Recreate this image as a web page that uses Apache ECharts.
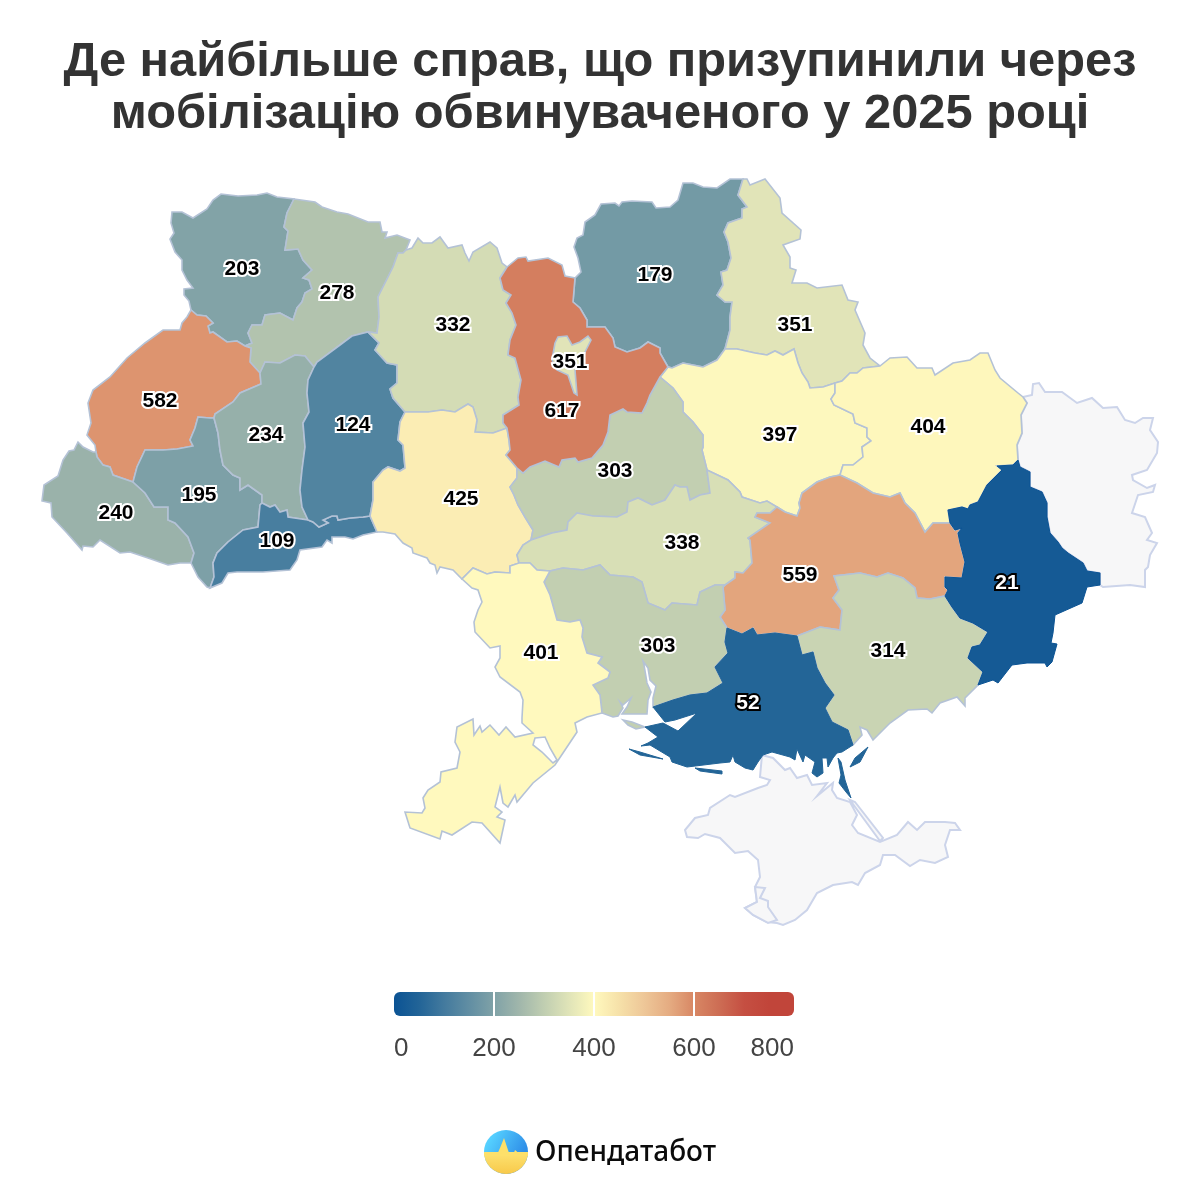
<!DOCTYPE HTML>
<html>
<head>
<meta charset="utf-8">
<title>Справи, призупинені через мобілізацію обвинуваченого</title>
<script src="https://cdn.jsdelivr.net/npm/echarts@6/dist/echarts.min.js"></script>
<style>
    html, body { margin: 0; padding: 0; background: #fff; }
    #chart { width: 1200px; height: 1200px; }
</style>
</head>
<body>
<div id="chart"></div>
<script type="text/javascript">
var titleText = 'Де найбільше справ, що призупинили через\nмобілізацію обвинуваченого у 2025 році';

var regionNames = ['Волинська', 'Рівненська', 'Житомирська', 'Чернігівська', 'Сумська', 'Львівська', 'Тернопільська',
    'Хмельницька', 'Вінницька', 'Черкаська', 'Кіровоградська', 'Полтавська', 'Харківська', 'Дніпропетровська',
    'Запорізька', 'Миколаївська', 'Одеська', 'Чернівецька', 'Івано-Франківська', 'Закарпатська', 'Київська',
    'Київ', 'Херсонська', 'Донецька'];
var regionValues = [203, 278, 332, 179, 351, 582, 234, 124, 425, 303, 338, 397, 404, 559, 314, 303, 401, 109, 195, 240, 617, 351, 52, 21];

var scaleMin = 0;
var scaleMax = 800;
var scaleStep = 200;
// colours every 50 cases, sampled from the legend bar
var scaleColors = ['#0b5394', '#226497', '#437a9e', '#618ea3', '#80a2a7', '#a0b6ab', '#c0ceb1', '#e0e4b8', '#fff9be',
    '#f6e1a9', '#eec798', '#e5ac82', '#d88764', '#cd6d54', '#c54f42', '#c1453a', '#c1453a'];

// traced borders, in picture pixels. each one is shared by the two regions on its sides
var arcs = {
    volOut: [[191,310],[189,301],[184,295],[184,289],[193,288],[187,280],[182,270],[182,260],[175,252],[170,239],[174,233],[171,223],[172,212],[182,212],[193,218],[207,209],[213,200],[221,194],[238,196],[257,195],[267,193],[277,197],[294,199]],
    volRiv: [[294,199],[287,213],[284,227],[288,231],[285,250],[298,249],[303,260],[312,270],[303,278],[309,280],[312,289],[305,293],[302,302],[297,308],[293,320],[280,313],[265,315],[262,325],[252,325],[248,333],[252,343],[245,346]],
    volLvi: [[245,346],[237,341],[227,342],[213,332],[210,333],[208,326],[213,323],[206,316],[197,315],[191,310]],
    rivOut: [[294,199],[315,202],[322,207],[337,212],[348,214],[368,222],[380,222],[382,232],[387,232],[385,238],[397,235],[410,240],[406,250]],
    rivZhy: [[406,250],[403,253],[398,253],[393,267],[390,273],[378,297],[379,317],[377,333],[368,332]],
    rivKhm: [[368,332],[352,336],[340,345],[317,362],[314,367]],
    rivTer: [[314,367],[305,356],[295,355],[280,363],[265,362],[260,373]],
    rivLvi: [[260,373],[250,362],[251,348],[245,346]],
    lviOut: [[191,310],[187,317],[182,323],[180,330],[163,330],[145,343],[127,358],[110,377],[93,390],[88,403],[91,423],[87,435],[95,445],[96,452]],
    lviZak: [[96,452],[97,457],[103,465],[110,467],[113,475],[133,482]],
    lviIvf: [[133,482],[137,467],[145,450],[163,450],[177,449],[193,446],[190,440],[195,428],[198,417],[210,418],[214,418]],
    lviTer: [[214,418],[215,414],[233,402],[240,393],[261,384],[260,373]],
    zakOut: [[96,452],[93,452],[83,447],[78,442],[74,450],[69,451],[63,460],[58,476],[44,485],[42,501],[51,503],[52,517],[67,533],[82,550],[83,546],[93,547],[100,540],[120,553],[130,552],[148,558],[168,565],[180,563],[191,563]],
    zakIvf: [[133,482],[145,493],[154,507],[168,507],[168,520],[175,523],[188,537],[194,553],[191,563]],
    ivfOut: [[191,563],[198,577],[207,587],[210,588]],
    ivfChe: [[262,503],[260,505],[258,527],[243,530],[228,542],[217,553],[213,563],[214,577],[210,588]],
    terIvf: [[262,503],[262,495],[248,485],[240,490],[240,478],[233,475],[223,465],[220,450],[218,433],[214,418]],
    terKhm: [[314,367],[308,380],[307,393],[309,412],[303,423],[305,447],[302,470],[300,490],[302,507],[308,520]],
    terChe: [[308,520],[288,517],[287,510],[280,512],[275,505],[270,507],[262,503]],
    cheKhm: [[308,520],[313,522],[319,527],[328,523],[323,520],[332,516],[337,516],[338,520],[350,518],[363,517],[370,516]],
    cheVin: [[370,516],[377,532]],
    cheOut: [[377,532],[363,535],[353,539],[345,537],[332,537],[332,543],[327,540],[322,547],[300,550],[297,560],[290,570],[263,572],[237,572],[228,573],[222,583],[210,588]],
    khmZhy: [[368,332],[379,343],[375,350],[387,363],[397,365],[397,383],[390,389],[393,398],[405,412]],
    khmVin: [[405,412],[400,422],[398,440],[403,445],[405,468],[400,471],[388,467],[383,470],[373,482],[373,500],[370,516]],
    zhyOut: [[406,250],[412,248],[418,238],[423,243],[432,243],[440,237],[448,248],[462,245],[465,253],[469,261],[473,252],[490,242],[497,248],[502,263],[507,267]],
    zhyKyi: [[507,267],[500,278],[503,290],[511,295],[506,303],[512,313],[516,325],[510,340],[508,355],[515,358],[521,380],[518,397],[519,405],[503,415],[503,423],[507,428]],
    zhyVin: [[405,412],[428,412],[442,410],[455,412],[468,404],[473,407],[477,420],[475,432],[493,433],[507,428]],
    kyiOut: [[507,267],[518,258],[526,257],[528,261],[548,258],[562,265],[565,276],[575,278]],
    kyiChn: [[575,278],[573,302],[580,308],[587,320],[587,327],[605,327],[613,338],[615,347],[627,352],[640,348],[648,342],[660,348],[660,353],[668,367]],
    kyiPol: [[668,367],[660,377]],
    kyiChk: [[660,377],[650,395],[647,403],[642,413],[627,412],[623,409],[610,415],[608,432],[603,445],[592,458],[578,462],[575,458],[562,460],[559,467],[545,461],[530,467],[523,473],[517,468]],
    kyiVin: [[507,428],[509,440],[510,450],[506,455],[517,468]],
    vinChk: [[517,468],[517,478],[510,487],[514,495],[518,505],[525,517],[533,530],[531,540]],
    vinKir: [[531,540],[523,545],[517,555],[519,563]],
    vinOde: [[519,563],[510,566],[510,573],[495,572],[487,574],[473,568],[462,579]],
    vinOut: [[462,579],[453,570],[440,567],[437,573],[435,565],[430,563],[427,558],[413,553],[412,548],[403,543],[395,534],[383,532],[377,532]],
    chnOut: [[575,278],[581,272],[578,258],[574,247],[577,238],[583,235],[585,222],[595,215],[601,204],[615,203],[619,206],[622,202],[632,201],[652,202],[656,208],[670,207],[678,200],[683,183],[693,183],[703,187],[717,188],[730,179],[743,179]],
    chnSum: [[743,179],[738,195],[747,207],[742,209],[742,218],[728,223],[724,232],[728,242],[731,258],[727,270],[721,272],[723,285],[717,295],[725,302],[732,302],[730,317],[730,330],[725,349]],
    chnPol: [[725,349],[717,360],[703,367],[683,363],[672,368],[668,367]],
    sumOut: [[743,179],[747,179],[750,185],[765,179],[780,198],[782,213],[801,230],[800,239],[783,245],[790,257],[790,268],[796,270],[792,283],[807,283],[817,288],[842,285],[848,300],[858,302],[855,310],[865,333],[863,345],[870,358],[880,366]],
    sumKha: [[880,366],[863,368],[857,373],[850,373],[842,381],[835,383]],
    sumPol: [[835,383],[823,387],[810,388],[808,382],[802,373],[798,363],[794,349],[783,355],[775,351],[767,355],[755,353],[737,349],[725,349]],
    polKha: [[835,383],[835,393],[831,399],[834,405],[853,414],[855,423],[867,428],[867,437],[871,441],[862,447],[863,457],[853,465],[843,465],[840,475]],
    polDni: [[840,475],[830,477],[817,482],[802,493],[799,503],[800,508],[797,516],[785,512],[777,507]],
    polKir: [[707,470],[728,480],[740,492],[742,497],[760,503],[767,501],[777,507]],
    polChk: [[660,377],[673,388],[683,402],[683,412],[693,422],[703,435],[703,447],[702,450],[707,470]],
    chkKir: [[707,470],[710,493],[700,495],[690,500],[687,487],[680,487],[675,485],[665,500],[652,505],[638,498],[628,502],[627,512],[617,517],[593,516],[577,513],[568,522],[567,530],[552,533],[531,540]],
    kirOde: [[519,563],[530,563],[537,570],[550,571]],
    kirMyk: [[550,571],[563,568],[583,570],[600,565],[610,575],[633,577],[642,582],[648,603],[665,610],[672,603],[697,605],[700,592],[715,585],[725,585]],
    kirDni: [[725,585],[735,578],[735,572],[743,573],[752,563],[750,540],[748,538],[770,523],[755,517],[757,513],[770,513],[777,507]],
    khaDni: [[840,475],[857,483],[873,493],[890,497],[900,493],[905,503],[915,513],[925,532],[933,523],[950,523]],
    dniDon: [[950,523],[955,530],[962,528],[958,533],[960,543],[965,562],[962,578],[945,577],[945,587],[948,590],[945,596]],
    dniZap: [[945,596],[930,599],[917,598],[915,588],[903,578],[888,573],[877,577],[860,573],[834,576],[839,590],[833,598],[842,610],[840,630],[820,627],[797,636]],
    dniKhe: [[797,636],[775,633],[757,635],[753,628],[742,634],[727,628]],
    dniMyk: [[727,628],[720,617],[725,610],[723,587],[725,585]],
    khaOut: [[880,366],[890,358],[907,357],[917,368],[932,368],[935,375],[953,363],[970,360],[980,353],[988,353],[995,370],[1000,378],[1018,393],[1023,397]],
    khaLug: [[1023,397],[1027,403],[1021,415],[1022,433],[1017,445],[1018,460]],
    khaDon: [[1018,460],[1013,465],[997,466],[1002,470],[987,485],[978,502],[970,505],[968,509],[962,507],[948,510],[950,523]],
    lugOut: [[1023,397],[1032,395],[1033,384],[1039,383],[1045,392],[1062,392],[1077,403],[1092,398],[1103,408],[1117,407],[1125,420],[1135,423],[1143,418],[1153,418],[1150,430],[1158,442],[1157,453],[1147,470],[1132,475],[1133,480],[1147,488],[1155,485],[1153,492],[1138,495],[1132,513],[1145,517],[1152,533],[1147,540],[1157,543],[1150,555],[1148,567],[1145,570],[1145,587],[1130,585],[1103,587],[1100,585]],
    lugDon: [[1100,585],[1100,573],[1087,571],[1083,563],[1068,553],[1062,548],[1058,542],[1050,533],[1047,517],[1047,503],[1042,492],[1030,487],[1030,472],[1020,467],[1018,460]],
    donOut: [[1100,585],[1087,587],[1082,603],[1055,615],[1053,633],[1051,643],[1057,644],[1052,662],[1047,667],[1045,663],[1027,663],[1012,665],[998,683],[993,680],[978,685]],
    donZap: [[978,685],[983,672],[968,658],[972,647],[980,645],[988,632],[973,623],[960,618],[952,607],[945,596]],
    zapOut: [[978,685],[965,698],[965,706],[957,697],[940,703],[932,713],[927,709],[908,710],[890,723],[873,740],[867,730],[860,727],[862,735],[853,745]],
    zapKhe: [[853,745],[848,730],[832,722],[825,708],[834,695],[825,683],[817,668],[813,652],[802,655],[797,636]],
    kheMyk: [[727,628],[725,642],[728,653],[715,667],[723,683],[707,693],[690,695],[673,700],[653,707]],
    kheOut: [[653,707],[665,722],[675,720],[697,713],[678,731],[663,723],[645,727],[658,737],[648,743],[641,746],[650,745],[670,757],[672,762],[687,767],[720,763],[730,762],[733,755],[735,762],[745,768],[753,770],[758,762],[763,755],[772,752],[790,757],[795,760],[797,749],[803,762],[805,755],[815,762],[812,773],[817,777],[823,773],[822,758],[827,758],[828,767],[833,758],[837,753],[842,752],[853,745]],
    mykOut: [[653,707],[653,698],[656,686],[650,680],[648,668],[643,661],[644,665],[647,683],[651,692],[648,700],[647,714],[622,714],[627,707],[631,698],[623,705],[620,702],[623,708],[618,716],[613,717],[602,713]],
    odeMyk: [[550,571],[544,582],[550,595],[557,620],[570,622],[580,620],[583,628],[582,637],[587,653],[602,657],[598,663],[610,672],[608,678],[593,685],[600,695],[602,713]],
    odeOut: [[462,579],[472,588],[478,590],[482,602],[478,610],[474,622],[475,632],[490,648],[500,646],[500,658],[495,667],[500,677],[520,692],[523,700],[522,718],[522,723],[533,733],[515,737],[506,727],[499,735],[490,725],[482,732],[480,726],[474,735],[473,719],[457,727],[455,742],[460,752],[457,768],[441,772],[440,782],[428,790],[423,798],[425,808],[422,813],[405,812],[410,828],[440,839],[442,831],[452,835],[472,822],[482,823],[500,843],[505,820],[497,817],[502,812],[495,807],[500,787],[503,803],[508,807],[515,795],[517,802],[533,783],[555,765],[565,750],[577,732],[575,723],[587,717],[602,713]]
};

// pieces with no neighbour: islands, spits, the lake and Crimea
var kyivCityRing = [[555,343],[558,337],[567,336],[572,345],[580,342],[588,336],[591,340],[585,352],[581,365],[575,370],[577,395],[574,393],[568,375],[557,370],[552,360]];
var odesaLiman = [[535,738],[545,737],[550,748],[557,760],[553,763],[542,752],[533,745]];
var kinburnSpit = [[623,720],[632,722],[645,727],[636,729],[628,725]];
var arabatSpit = [[838,758],[841,762],[845,780],[851,798],[846,792],[839,783],[841,775]];
var tendraSpit = [[629,749],[640,752],[663,759],[640,755]];
var dzharylhachSpit = [[695,768],[722,771],[722,774],[700,771]];
var biriuchyiSpit = [[850,767],[855,758],[868,747],[860,762]];
var crimeaRing = [[762,755],[760,777],[770,780],[767,785],[758,788],[735,797],[730,795],[710,808],[708,815],[695,818],[685,830],[687,837],[698,838],[705,834],[720,838],[735,853],[748,851],[758,860],[760,877],[755,887],[757,902],[745,908],[753,915],[767,922],[777,923],[783,925],[795,920],[807,910],[817,893],[833,885],[852,882],[858,885],[865,873],[880,865],[883,855],[895,855],[910,866],[920,860],[935,863],[948,857],[945,845],[950,830],[960,830],[955,823],[945,822],[925,822],[917,830],[908,822],[897,835],[880,842],[858,833],[852,825],[857,815],[850,802],[837,798],[832,790],[833,783],[817,796],[827,783],[812,785],[807,775],[797,778],[790,768],[785,770],[773,758]];
var crimeaSpit = [[850,800],[855,802],[883,838],[880,841]];
var sevastopolRing = [[755,887],[765,888],[760,898],[768,901],[768,907],[777,920],[768,923],[753,915],[745,908],[757,902]];

// where each number sits on the map
var labelSpots = {
    'Волинська': [242,269], 'Рівненська': [337,293], 'Житомирська': [453,325], 'Чернігівська': [655,275],
    'Сумська': [795,325], 'Львівська': [160,401], 'Тернопільська': [266,435], 'Хмельницька': [353,425],
    'Вінницька': [461,499], 'Черкаська': [615,471], 'Кіровоградська': [682,543], 'Полтавська': [780,435],
    'Харківська': [928,427], 'Дніпропетровська': [800,575], 'Запорізька': [888,651], 'Миколаївська': [658,646],
    'Одеська': [541,653], 'Чернівецька': [277,541], 'Івано-Франківська': [199,495], 'Закарпатська': [116,513],
    'Київська': [562,411], 'Київ': [570,362], 'Херсонська': [748,703], 'Донецька': [1007,583]
};

// a leading minus walks the border backwards
function ring(names) {
    var pts = [];
    names.forEach(function (n) {
        var a = n.charAt(0) === '-' ? arcs[n.slice(1)].slice().reverse() : arcs[n];
        pts = pts.concat(a);
    });
    pts.push(pts[0]);
    return pts;
}
function closed(r) {
    return r.concat([r[0]]);
}
function feature(name, polygons) {
    return {
        type: 'Feature',
        properties: { name: name, cp: labelSpots[name] },
        geometry: { type: 'MultiPolygon', coordinates: polygons }
    };
}

// drawing order: the two grey regions first, dark regions and Kyiv on top
var ukraine = {
    type: 'FeatureCollection',
    features: [
        feature('Луганська', [[ring(['lugOut', 'lugDon', '-khaLug'])]]),
        feature('АР Крим', [[closed(crimeaRing)], [closed(crimeaSpit)]]),
        feature('Севастополь', [[closed(sevastopolRing)]]),
        feature('Волинська', [[ring(['volOut', 'volRiv', 'volLvi'])]]),
        feature('Рівненська', [[ring(['rivOut', 'rivZhy', 'rivKhm', 'rivTer', 'rivLvi', '-volRiv'])]]),
        feature('Львівська', [[ring(['lviOut', 'lviZak', 'lviIvf', 'lviTer', 'rivLvi', 'volLvi'])]]),
        feature('Закарпатська', [[ring(['zakOut', '-zakIvf', '-lviZak'])]]),
        feature('Івано-Франківська', [[ring(['zakIvf', 'ivfOut', '-ivfChe', 'terIvf', '-lviIvf'])]]),
        feature('Тернопільська', [[ring(['-rivTer', 'terKhm', 'terChe', 'terIvf', 'lviTer'])]]),
        feature('Чернівецька', [[ring(['cheKhm', 'cheVin', 'cheOut', '-ivfChe', '-terChe'])]]),
        feature('Хмельницька', [[ring(['-rivKhm', 'khmZhy', 'khmVin', '-cheKhm', '-terKhm'])]]),
        feature('Житомирська', [[ring(['zhyOut', 'zhyKyi', '-zhyVin', '-khmZhy', '-rivZhy'])]]),
        feature('Вінницька', [[ring(['zhyVin', 'kyiVin', 'vinChk', 'vinKir', 'vinOde', 'vinOut', '-cheVin', '-khmVin'])]]),
        feature('Чернігівська', [[ring(['chnOut', 'chnSum', 'chnPol', '-kyiChn'])]]),
        feature('Сумська', [[ring(['sumOut', 'sumKha', 'sumPol', '-chnSum'])]]),
        feature('Полтавська', [[ring(['-sumPol', 'polKha', 'polDni', '-polKir', '-polChk', '-kyiPol', '-chnPol'])]]),
        feature('Черкаська', [[ring(['polChk', 'chkKir', '-vinChk', '-kyiChk'])]]),
        feature('Кіровоградська', [[ring(['chkKir', 'vinKir', 'kirOde', 'kirMyk', 'kirDni', '-polKir'])]]),
        feature('Харківська', [[ring(['khaOut', 'khaLug', 'khaDon', '-khaDni', '-polKha', '-sumKha'])]]),
        feature('Дніпропетровська', [[ring(['-polDni', 'khaDni', 'dniDon', 'dniZap', 'dniKhe', 'dniMyk', 'kirDni'])]]),
        feature('Запорізька', [[ring(['-dniZap', '-donZap', 'zapOut', 'zapKhe'])]]),
        feature('Миколаївська', [[ring(['kirMyk', '-dniMyk', 'kheMyk', 'mykOut', '-odeMyk'])], [closed(kinburnSpit)]]),
        feature('Одеська', [[ring(['odeOut', '-odeMyk', '-kirOde', 'vinOde']), closed(odesaLiman)]]),
        feature('Київська', [[ring(['kyiOut', 'kyiChn', 'kyiPol', 'kyiChk', '-kyiVin', '-zhyKyi'])]]),
        feature('Київ', [[closed(kyivCityRing)]]),
        feature('Херсонська', [[ring(['dniKhe', 'kheMyk', 'kheOut', 'zapKhe'])], [closed(arabatSpit)], [closed(tendraSpit)], [closed(dzharylhachSpit)], [closed(biriuchyiSpit)]]),
        feature('Донецька', [[ring(['-lugDon', 'donOut', 'donZap', '-dniDon', '-khaDon'])]])
    ]
};
echarts.registerMap('ukraine', ukraine);

var font = '"Liberation Sans", Arial, sans-serif';

// the two darkest regions have no light outline and white numbers
function regionItem(name, i) {
    var item = { name: name, value: regionValues[i] };
    if (regionValues[i] < 100) {
        var c = scaleColors[regionValues[i] < 40 ? 0 : 1];
        item.itemStyle = { borderColor: c, borderWidth: 1 };
        item.label = { color: '#fff', textBorderColor: '#000' };
    } else {
        item.itemStyle = { borderColor: '#b4c2d6', borderWidth: 1.6 };
    }
    return item;
}

var myChart = echarts.init(document.getElementById('chart'), null, { renderer: 'canvas' });

var option = {
    animation: false,
    backgroundColor: '#fff',
    title: {
        text: titleText,
        left: 'center',
        top: 32,
        textStyle: { fontFamily: font, fontSize: 48.8, fontWeight: 'bold', color: '#333', lineHeight: 52 }
    },
    visualMap: {
        show: false,
        type: 'continuous',
        seriesIndex: 0,
        min: scaleMin,
        max: scaleMax,
        inRange: { color: scaleColors }
    },
    grid: { left: 394, top: 992, width: 400, height: 24 },
    xAxis: {
        type: 'value',
        min: scaleMin,
        max: scaleMax,
        interval: scaleStep,
        z: 5,
        axisLine: { show: false },
        axisTick: { show: false },
        splitLine: { show: true, showMinLine: false, showMaxLine: false, lineStyle: { color: '#fff', width: 2 } },
        axisLabel: { color: '#444', fontFamily: font, fontSize: 26, margin: 20, alignMinLabel: 'left', alignMaxLabel: 'right' }
    },
    yAxis: { type: 'category', data: [''], show: false },
    series: [
        {
            type: 'map',
            map: 'ukraine',
            projection: {
                project: function (p) { return p; },
                unproject: function (p) { return p; }
            },
            left: 42,
            top: 179,
            width: 1116,
            height: 746,
            roam: false,
            silent: true,
            itemStyle: { areaColor: '#f7f7f8', borderColor: '#ccd4ea', borderWidth: 2 },
            label: {
                show: true,
                fontFamily: font,
                fontSize: 21,
                fontWeight: 'bold',
                color: '#000',
                textBorderColor: '#fff',
                textBorderWidth: 4,
                formatter: function (p) { return isNaN(p.value) ? '' : p.value; }
            },
            data: regionNames.map(regionItem)
        },
        {
            type: 'bar',
            silent: true,
            barWidth: 24,
            data: [scaleMax],
            itemStyle: {
                borderRadius: 6,
                color: new echarts.graphic.LinearGradient(0, 0, 1, 0, scaleColors.map(function (c, i) {
                    return { offset: i / (scaleColors.length - 1), color: c };
                }))
            }
        }
    ],
    graphic: [
        { type: 'circle', shape: { cx: 506, cy: 1152, r: 22 }, style: {
            fill: new echarts.graphic.LinearGradient(0.2, 0.1, 0.9, 0.5, [{ offset: 0, color: '#55d0ff' }, { offset: 1, color: '#2f8fe8' }]) } },
        { type: 'sector', shape: { cx: 506, cy: 1152, r: 22, startAngle: 0, endAngle: Math.PI }, style: {
            fill: new echarts.graphic.LinearGradient(0, 0, 0, 1, [{ offset: 0, color: '#fde372' }, { offset: 1, color: '#f8c94a' }]) } },
        { type: 'polygon', shape: { points: [[484,1152.5],[498,1152.5],[500,1148],[504,1138],[509,1153],[512,1158],[515,1150],[518,1152.5],[528,1152.5],[528,1156],[484,1156]] }, style: { fill: '#fde06a' } },
        { type: 'text', x: 535, y: 1153, style: { text: 'Опендатабот', fontFamily: '"Noto Sans", sans-serif', fontSize: 28, fontWeight: 500, fill: '#0b0b0b', align: 'left', verticalAlign: 'middle' } }
    ]
};
myChart.setOption(option);
</script>
</body>
</html>
